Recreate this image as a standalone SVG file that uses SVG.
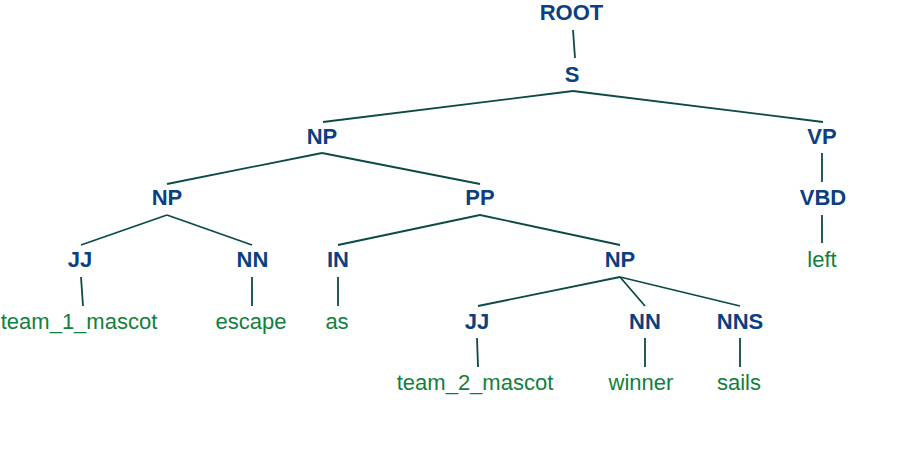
<svg xmlns="http://www.w3.org/2000/svg" width="902" height="450" viewBox="0 0 902 450">
<style>
.l{font-family:"Liberation Sans",Arial,sans-serif;font-size:22px;font-weight:bold;fill:#0b3f7f;text-anchor:middle}
.w{font-family:"Liberation Sans",Arial,sans-serif;font-size:22px;fill:#12803c;text-anchor:middle}
#edges line{stroke:#0b4a45;stroke-width:1.8;fill:none}
</style>
<rect width="902" height="450" fill="#fff"/>
<g id="edges">
<line x1="573" y1="30" x2="575" y2="58"/>
<line x1="573" y1="91" x2="323" y2="122"/>
<line x1="573" y1="91" x2="823" y2="122"/>
<line x1="322" y1="153" x2="167" y2="184"/>
<line x1="322" y1="153" x2="480" y2="184"/>
<line x1="822" y1="153" x2="822" y2="182"/>
<line x1="167" y1="215" x2="81" y2="245"/>
<line x1="167" y1="215" x2="252" y2="245"/>
<line x1="480" y1="215" x2="338" y2="245"/>
<line x1="480" y1="215" x2="620" y2="245"/>
<line x1="822" y1="215" x2="822" y2="243"/>
<line x1="81" y1="277" x2="83" y2="306"/>
<line x1="252" y1="277" x2="252" y2="306"/>
<line x1="338" y1="277" x2="338" y2="306"/>
<line x1="620" y1="277" x2="478" y2="306"/>
<line x1="620" y1="277" x2="645" y2="306"/>
<line x1="620" y1="277" x2="740" y2="306"/>
<line x1="477" y1="338" x2="478" y2="367"/>
<line x1="645" y1="338" x2="645" y2="367"/>
<line x1="740" y1="338" x2="740" y2="367"/>
</g>
<g id="n-root"><text class="l" x="571.5" y="20">ROOT</text></g>
<g id="n-s"><text class="l" x="572" y="82">S</text></g>
<g id="n-np1"><text class="l" x="322" y="144">NP</text></g>
<g id="n-vp"><text class="l" x="822" y="144">VP</text></g>
<g id="n-np2"><text class="l" x="167" y="205">NP</text></g>
<g id="n-pp"><text class="l" x="480" y="205">PP</text></g>
<g id="n-vbd"><text class="l" x="823" y="205">VBD</text></g>
<g id="n-jj1"><text class="l" x="80" y="267">JJ</text></g>
<g id="n-nn1"><text class="l" x="252.5" y="267">NN</text></g>
<g id="n-in"><text class="l" x="338" y="267">IN</text></g>
<g id="n-np3"><text class="l" x="620" y="267">NP</text></g>
<g id="n-left"><text class="w" x="822" y="267">left</text></g>
<g id="n-team1"><text class="w" x="79" y="329">team_1_mascot</text></g>
<g id="n-escape"><text class="w" x="251" y="329">escape</text></g>
<g id="n-as"><text class="w" x="337" y="329">as</text></g>
<g id="n-jj2"><text class="l" x="477" y="329">JJ</text></g>
<g id="n-nn2"><text class="l" x="645" y="329">NN</text></g>
<g id="n-nns"><text class="l" x="740" y="329">NNS</text></g>
<g id="n-team2"><text class="w" x="475" y="390">team_2_mascot</text></g>
<g id="n-winner"><text class="w" x="641" y="390">winner</text></g>
<g id="n-sails"><text class="w" x="739" y="390">sails</text></g>
</svg>
